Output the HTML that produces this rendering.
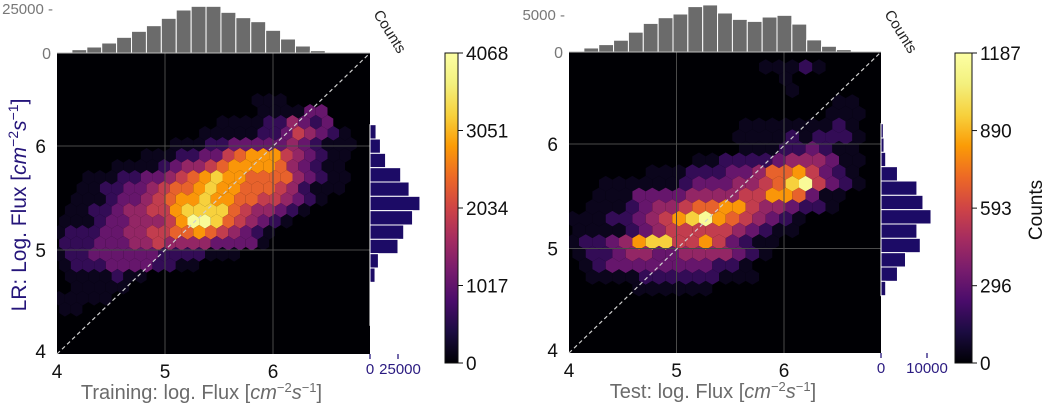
<!DOCTYPE html>
<html><head><meta charset="utf-8"><style>
html,body{margin:0;padding:0;background:#fff;}
svg{display:block;font-family:"Liberation Sans",sans-serif;}
</style></head><body>
<svg id="fig" width="1045" height="407" viewBox="0 0 1045 407" xmlns="http://www.w3.org/2000/svg"></svg>
<script>
// ---------- DATA ----------
const leftHexRows = [
"000000000000000000000000000","000000000000000000000000000","000000000000000000000000000","000000000000000000000000000",
"000000000000000001110000000","000000000000000001111330000","000000000000001111224323000","000000000000111112235432100",
"000000000011122333334321110","000000011122335677754321100","000001111234456777764321100","001112233456787766664321100",
"001122334566787766654211100","011123345677877665543210000","011223445578888654432100000","111233444579986543210000000",
"122233445566765432100000000","222333445444433331000000000","122333333222211100000000000","122233332211000000000000000",
"011112110000000000000000000","011111000000000000000000000","111110000000000000000000000","110000000000000000000000000",
"000000000000000000000000000","000000000000000000000000000","000000000000000000000000000"];
const leftMax = 4068;
const rightHexRows = [
"00000000000000000000000","00000000000000111210000","00000000000000001000000","00000000000000001000000",
"00000000000000000000110","00000000000000000001110","00000000000001111111210","00000000000011112122210",
"00000000000001112232110","00000000011222234443110","00000011122233466753210","00111111233344568953210",
"00111333344445577631100","01112344566775443221000","11122345789765432100000","11112345555543211000000",
"12234788557532110000000","12234433444432100000000","01233333333221000000000","01111222222111000000000",
"00000111111000000000000","00000000000000000000000","00000000000000000000000","00000000000000000000000",
"00000000000000000000000","00000000000000000000000"];
const rightMax = 1187;
const levelFractions = [0,0.04,0.15,0.26,0.36,0.47,0.58,0.69,0.8,0.97];
const leftTopCounts = [556,1852,3333,5556,8704,12037,15185,19259,23889,25926,25926,22593,19630,17407,12593,7778,3889,1296,0,0,556];
const leftSideCounts = [0,0,0,0,0,5400,9300,13900,27400,34900,44600,38000,30100,25000,7500,4500,400,300,200,0,0];
const rightTopCounts = [133,531,973,1549,2611,3761,4513,5000,5973,6195,5133,4292,4027,4602,4823,3673,1593,752,310,0,88];
const rightSideCounts = [0,0,0,0,0,511,657,1022,3577,7810,9124,10876,7810,8540,5328,3577,1022,0,0,0,0];
const axisTicks = [4,5,6];
const leftCbarTicks = [0,1017,2034,3051,4068];
const rightCbarTicks = [0,296,593,890,1187];

// ---------- HELPERS ----------
const NS="http://www.w3.org/2000/svg";
const svg=document.getElementById('fig');
function mk(tag,attrs,parent){const e=document.createElementNS(NS,tag);for(const k in attrs)e.setAttribute(k,attrs[k]);(parent||svg).appendChild(e);return e;}
const inf=[[0,0,0,4],[0.1,27,12,65],[0.2,74,12,107],[0.3,120,28,109],[0.4,165,44,96],[0.5,207,68,70],[0.6,237,105,37],[0.7,251,155,6],[0.8,247,209,61],[0.9,243,240,125],[1,252,255,164]];
function inferno(t){t=Math.max(0,Math.min(1,t));for(let i=1;i<inf.length;i++){if(t<=inf[i][0]){const a=inf[i-1],b=inf[i],f=(t-a[0])/(b[0]-a[0]);return `rgb(${Math.round(a[1]+f*(b[1]-a[1]))},${Math.round(a[2]+f*(b[2]-a[2]))},${Math.round(a[3]+f*(b[3]-a[3]))})`;}}return 'rgb(252,255,164)';}
const titleHTML=pre=>pre+': log. Flux [<tspan font-style="italic">cm</tspan><tspan font-size="13" dy="-7">−2</tspan><tspan font-style="italic" dy="7">s</tspan><tspan font-size="13" dy="-7">−1</tspan><tspan dy="7">]</tspan>';

function panel(cfg){
  const {id,x0,x1,y0,y1,hexRows,max,dx,dy,colOff,rowOff,topCounts,sideCounts,topTickVal,topTickLabel,sideTickVal,sideTickLabel,cbX,cbTicks,xlabel,ppuX,ppuY}=cfg;
  const xs=v=>x0+(v-4)*ppuX, ys=v=>y1-(v-4)*ppuY;
  const g=mk('g',{});
  
  
  const bg=mk('rect',{x:x0,y:y0,width:x1-x0,height:y1-y0,fill:'#000004'},g);
  
  
  const cp=mk('clipPath',{id:id+'clip'},g);mk('rect',{x:x0,y:y0,width:x1-x0,height:y1-y0},cp);
  const hg=mk('g',{'clip-path':`url(#${id}clip)`},g);
  const hh=dy*2/3;
  hexRows.forEach((row,r)=>{
    for(let c=0;c<row.length;c++){
      const d=+row[c]; if(!d) continue;
      const cx=x0+colOff+c*dx+(r%2?dx/2:0)-dx/4, cy=y0+rowOff+r*dy;
      const w=dx/2;
      const pts=[[cx,cy-hh],[cx+w,cy-hh/2],[cx+w,cy+hh/2],[cx,cy+hh],[cx-w,cy+hh/2],[cx-w,cy-hh/2]].map(p=>p.map(v=>v.toFixed(1)).join(',')).join(' ');
      const count=levelFractions[d]*max;
      const h=mk('polygon',{points:pts,fill:inferno(count/max)},hg);
      
      
    }
  });
  [5,6].forEach(v=>{
    mk('line',{x1:xs(v),x2:xs(v),y1:y0,y2:y1,stroke:'#4a4a4a','stroke-width':1},g);
    mk('line',{x1:x0,x2:x1,y1:ys(v),y2:ys(v),stroke:'#4a4a4a','stroke-width':1},g);
  });
  const diag=mk('line',{x1:x0,y1:y1,x2:x1,y2:y0,stroke:'#cfcfcf','stroke-width':1.2,'stroke-dasharray':'4,3'},g);
  
  
  axisTicks.forEach(v=>{
    const t=mk('text',{x:xs(v),y:y1+24,'font-size':19,'text-anchor':'middle',fill:'#111'},g);t.textContent=v;
    
    
    const u=mk('text',{x:x0-11,y:ys(v)+(v===4?4:7),'font-size':19,'text-anchor':'end',fill:'#111'},g);u.textContent=v;
    
    
  });
  const xl=mk('text',{x:(x0+x1)/2-12,y:y1+45,'font-size':20,'text-anchor':'middle',fill:'#6b6b6b'},g);
  xl.innerHTML=titleHTML(xlabel);
  
  
  const nb=topCounts.length, bw=(x1-x0)/nb, tScale=v=>v/topTickVal*(y0-cfg.topTickY);
  topCounts.forEach((v,i)=>{
    const h=tScale(v); if(h<=0) return;
    const b=mk('rect',{x:x0+i*bw,y:y0-h,width:bw,height:h,fill:'#6b6b6b',stroke:'#fff','stroke-width':1},g);
    
    
  });
  mk('line',{x1:x0,x2:x1,y1:y0,y2:y0,stroke:'#bbb','stroke-width':1},g);
  const tt=mk('text',{x:x0-4,y:cfg.topTickY+6,'font-size':15,'text-anchor':'end',fill:'#777'},g);tt.textContent=topTickLabel+' -';
  
  
  const t0=mk('text',{x:x0-6,y:y0+6,'font-size':16,'text-anchor':'end',fill:'#777'},g);t0.textContent='0';
  
  
  const ct=mk('text',{x:0,y:0,'font-size':15,fill:'#222',transform:`translate(${x1+3},${14}) rotate(58)`},g);ct.textContent='Counts';
  
  
  const bh=(y1-y0)/sideCounts.length, sScale=v=>v/sideTickVal*cfg.sideTickPx;
  sideCounts.forEach((v,i)=>{
    const w=sScale(v); if(w<=0) return;
    const b=mk('rect',{x:x1,y:y0+i*bh,width:w,height:bh,fill:'#1c0b66',stroke:'#fff','stroke-width':1},g);
    
    
  });
  [0,sideTickVal].forEach(v=>{
    mk('line',{x1:x1+sScale(v),x2:x1+sScale(v),y1:y1,y2:y1+5,stroke:'#2a1a80','stroke-width':1.3},g);
  });
  const s0=mk('text',{x:x1,y:y1+20,'font-size':15,'text-anchor':'middle',fill:'#2a1a80'},g);s0.textContent='0';
  
  
  const s1=mk('text',{x:x1+sScale(sideTickVal)+cfg.sideLabelShift,y:y1+20,'font-size':15,'text-anchor':'middle',fill:'#2a1a80'},g);s1.textContent=sideTickLabel;
  
  
  const cbT=53,cbB=363,cbW=cfg.cbW;
  const gr=mk('linearGradient',{id:id+'grad',x1:0,y1:1,x2:0,y2:0},g);
  inf.forEach(s=>mk('stop',{offset:s[0],'stop-color':`rgb(${s[1]},${s[2]},${s[3]})`},gr));
  const cb=mk('rect',{x:cbX,y:cbT,width:cbW,height:cbB-cbT,fill:`url(#${id}grad)`,stroke:'#111','stroke-width':1},g);
  
  
  cbTicks.forEach(v=>{
    const y=cbB-v/max*(cbB-cbT);
    mk('line',{x1:cbX+cbW,x2:cbX+cbW+5,y1:y,y2:y,stroke:'#111','stroke-width':1},g);
    const l=mk('text',{x:cbX+cbW+8,y:y+7,'font-size':19,fill:'#111'},g);l.textContent=v;
    
    
  });
}

panel({id:'train',x0:57,x1:370,y0:53,y1:354,ppuX:108,ppuY:104,hexRows:leftHexRows,max:leftMax,dx:11.67,dy:11,colOff:5,rowOff:3.3,
  topCounts:leftTopCounts,sideCounts:leftSideCounts,topTickVal:25000,topTickLabel:'25000',topTickY:8,
  sideTickVal:25000,sideTickLabel:'25000',sideTickPx:28,sideLabelShift:2,cbX:445,cbW:13,cbTicks:leftCbarTicks,xlabel:'Training'});
panel({id:'test',x0:569,x1:881,y0:52,y1:353,ppuX:107.5,ppuY:104.5,hexRows:rightHexRows,max:rightMax,dx:13.33,dy:11.67,colOff:6.7,rowOff:3.3,
  topCounts:rightTopCounts,sideCounts:rightSideCounts,topTickVal:5000,topTickLabel:'5000',topTickY:14,
  sideTickVal:10000,sideTickLabel:'10000',sideTickPx:46,sideLabelShift:0,cbX:955,cbW:17,cbTicks:rightCbarTicks,xlabel:'Test'});

const yl=mk('text',{x:0,y:0,'font-size':21,'text-anchor':'middle',fill:'#25157a',transform:'translate(26,205) rotate(-90)'});
yl.innerHTML='LR: Log. Flux [<tspan font-style="italic">cm</tspan><tspan font-size="14" dy="-8">−2</tspan><tspan font-style="italic" dy="8">s</tspan><tspan font-size="14" dy="-8">−1</tspan><tspan dy="8">]</tspan>';


const cl=mk('text',{x:0,y:0,'font-size':19,'text-anchor':'middle',fill:'#111',transform:'translate(1042,210) rotate(-90)'});
cl.textContent='Counts';


</script>
</body></html>
